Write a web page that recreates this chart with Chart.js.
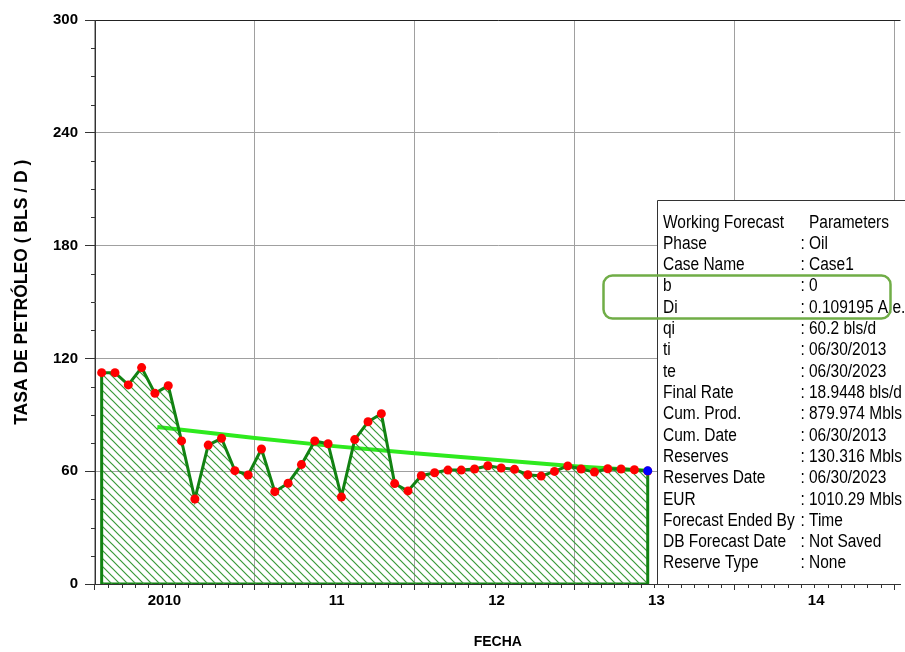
<!DOCTYPE html>
<html>
<head>
<meta charset="utf-8">
<script src="https://cdn.jsdelivr.net/npm/chart.js@4.4.1/dist/chart.umd.min.js"></script>
<style>
  html, body { margin: 0; padding: 0; background: #fff; }
  canvas { display: block; }
</style>
</head>
<body>
<canvas id="chart" width="905" height="652"></canvas>
<script>
// Monthly oil rate history (bls/d), Jan 2010 – Jun 2013
const months = [
  '2010-01','2010-02','2010-03','2010-04','2010-05','2010-06','2010-07','2010-08','2010-09','2010-10','2010-11','2010-12',
  '2011-01','2011-02','2011-03','2011-04','2011-05','2011-06','2011-07','2011-08','2011-09','2011-10','2011-11','2011-12',
  '2012-01','2012-02','2012-03','2012-04','2012-05','2012-06','2012-07','2012-08','2012-09','2012-10','2012-11','2012-12',
  '2013-01','2013-02','2013-03','2013-04','2013-05','2013-06'
];
const oilRate = [
  112.4, 112.4, 105.9, 115.1, 101.4, 105.5, 76.1, 45.2, 73.9, 77.5, 60.3, 58.0,
  71.8, 49.1, 53.6, 63.5, 76.1, 74.6, 46.3, 76.8, 86.3, 90.6, 53.4, 49.5,
  57.6, 59.2, 60.6, 60.6, 61.2, 62.9, 61.7, 61.0, 58.1, 57.4, 59.9, 62.8,
  61.2, 59.6, 61.3, 61.2, 60.8, 60.1
];

// Working forecast (exponential decline) – decimal years and rates
const qi = 60.2;
const forecastYears = [2010.39, 2011.0, 2011.46, 2012.0, 2013.0, 2013.458];
const forecastRate  = [83.5, 77.6, 73.6, 69.6, 62.6, qi];

// Axis ticks
const yearTicks  = [2010.5, 2011.5, 2012.5, 2013.5, 2014.5];
const yearLabels = ['2010      ', '11', '12', '13', '14'];
const rateTicks  = [0, 60, 120, 180, 240, 300];

// Forecast parameter table
const paramNames = [
  'Working Forecast', 'Phase', 'Case Name', 'b', 'Di', 'qi', 'ti', 'te', 'Final Rate',
  'Cum. Prod.', 'Cum. Date', 'Reserves', 'Reserves Date', 'EUR',
  'Forecast Ended By', 'DB Forecast Date', 'Reserve Type'
];
const paramValues = [
  'Parameters', 'Oil', 'Case1', '0', '0.109195 A.e.', qi + ' bls/d', '06/30/2013', '06/30/2023',
  '18.9448 bls/d', '879.974 Mbls', '06/30/2013', '130.316 Mbls', '06/30/2023', '1010.29 Mbls',
  'Time', 'Not Saved', 'None'
];

// month 'YYYY-MM' -> decimal year at mid-month
function toYear(m) {
  const [y, mo] = m.split('-').map(Number);
  return y + (mo - 0.5) / 12;
}

const history = months.map((m, i) => ({ x: toYear(m), y: oilRate[i] }));
const t0 = history[0].x;
const tN = history[history.length - 1].x;
const areaOutline = [{ x: t0, y: 0 }, ...history, { x: tN, y: 0 }];
const forecast = forecastYears.map((x, i) => ({ x, y: forecastRate[i] }));

// diagonal hatch used to fill the cumulative area
function hatchPattern() {
  const s = 8;
  const c = document.createElement('canvas');
  c.width = s; c.height = s;
  const g = c.getContext('2d');
  g.strokeStyle = '#3a9a3a';
  g.lineWidth = 1.2;
  g.beginPath();
  g.moveTo(-1, -1); g.lineTo(s + 1, s + 1);
  g.moveTo(-1, s - 1); g.lineTo(1, s + 1);
  g.moveTo(s - 1, -1); g.lineTo(s + 1, 1);
  g.stroke();
  return g.createPattern(c, 'repeat');
}

const FONT = '"Liberation Sans", Arial, Helvetica, sans-serif';
const DARK_GREEN = '#128212';

// minor tick marks plus the parameter panel
const overlay = {
  id: 'overlay',
  afterDraw(chart) {
    const { ctx, scales: { x, y }, chartArea } = chart;
    ctx.save();
    ctx.strokeStyle = '#333';
    ctx.lineWidth = 1;
    ctx.beginPath();
    for (let k = 1; k < 12 * 6; k++) {
      if (k % 12 === 0) continue;
      const v = 2010 + k / 12;
      if (v > x.max) break;
      const px = Math.round(x.getPixelForValue(v)) + 0.5;
      ctx.moveTo(px, chartArea.bottom);
      ctx.lineTo(px, chartArea.bottom + 4);
    }
    for (let v = 15; v < 300; v += 15) {
      if (v % 60 === 0) continue;
      const py = Math.round(y.getPixelForValue(v)) + 0.5;
      ctx.moveTo(chartArea.left - 4, py);
      ctx.lineTo(chartArea.left, py);
    }
    ctx.stroke();

    // parameter panel
    const bx = 657.5, by = 200.5, bottom = chartArea.bottom;
    ctx.fillStyle = '#fff';
    ctx.fillRect(bx, by, chart.width - bx + 2, bottom - by);
    ctx.strokeStyle = '#333';
    ctx.beginPath();
    ctx.moveTo(bx, bottom + 1);
    ctx.lineTo(bx, by);
    ctx.lineTo(chart.width + 2, by);
    ctx.stroke();

    ctx.fillStyle = '#000';
    ctx.font = '18px ' + FONT;
    ctx.textBaseline = 'alphabetic';
    ctx.textAlign = 'left';
    const put = (t, px, py) => {
      ctx.save();
      ctx.translate(px, py);
      ctx.scale(0.86, 1);
      ctx.fillText(t, 0, 0);
      ctx.restore();
    };
    paramNames.forEach((name, i) => {
      const base = 227.5 + 21.31 * i;
      put(name, 663, base);
      if (i > 0) put(':', 800.5, base);
      put(paramValues[i], 809, base);
    });

    // highlight around b / Di
    const rx = 603.5, ry = 275.5, rw = 287, rh = 43, r = 9;
    ctx.strokeStyle = '#70ad47';
    ctx.lineWidth = 2.5;
    ctx.beginPath();
    ctx.moveTo(rx + r, ry);
    ctx.lineTo(rx + rw - r, ry);
    ctx.arcTo(rx + rw, ry, rx + rw, ry + r, r);
    ctx.lineTo(rx + rw, ry + rh - r);
    ctx.arcTo(rx + rw, ry + rh, rx + rw - r, ry + rh, r);
    ctx.lineTo(rx + r, ry + rh);
    ctx.arcTo(rx, ry + rh, rx, ry + rh - r, r);
    ctx.lineTo(rx, ry + r);
    ctx.arcTo(rx, ry, rx + r, ry, r);
    ctx.closePath();
    ctx.stroke();
    ctx.restore();
  }
};

new Chart(document.getElementById('chart'), {
  type: 'line',
  data: {
    datasets: [
      { // forecast start point
        data: [{ x: tN, y: qi }],
        showLine: false,
        pointRadius: 4.5,
        pointBackgroundColor: '#0000ff',
        pointBorderWidth: 0,
        order: 0
      },
      { // monthly rate points
        data: history,
        showLine: false,
        pointRadius: 4.5,
        pointBackgroundColor: '#ff0000',
        pointBorderWidth: 0,
        order: 1
      },
      { // production outline with hatched cumulative area
        data: areaOutline,
        borderColor: DARK_GREEN,
        borderWidth: 3,
        backgroundColor: hatchPattern(),
        fill: 'origin',
        pointRadius: 0,
        tension: 0,
        order: 2
      },
      { // base of the area
        data: [{ x: t0, y: 0 }, { x: tN, y: 0 }],
        borderColor: DARK_GREEN,
        borderWidth: 3,
        pointRadius: 0,
        fill: false,
        order: 3
      },
      { // working forecast line
        data: forecast,
        borderColor: '#2eea1e',
        borderWidth: 4,
        pointRadius: 0,
        fill: false,
        order: 4
      }
    ]
  },
  options: {
    responsive: false,
    animation: false,
    events: [],
    layout: { padding: { top: 20, right: 0, bottom: 0, left: 0 } },
    plugins: { legend: { display: false }, tooltip: { enabled: false } },
    scales: {
      x: {
        type: 'linear',
        min: 2010,
        max: 2015.04,
        afterFit: s => { s.height = 68; },
        afterBuildTicks: s => { s.ticks = yearTicks.map(v => ({ value: v })); },
        ticks: {
          callback: (v, i) => yearLabels[i],
          autoSkip: false,
          maxRotation: 0,
          labelOffset: 2,
          padding: 2,
          color: '#000',
          font: { family: FONT, size: 15, weight: 'bold' }
        },
        grid: {
          offset: true,
          color: '#a0a0a0',
          lineWidth: 1,
          tickLength: 6,
          tickColor: '#333'
        },
        border: { color: '#333', width: 1 },
        title: {
          display: true,
          text: 'FECHA',
          color: '#000',
          padding: { top: 0, bottom: 1 },
          font: { family: FONT, size: 14, weight: 'bold' }
        }
      },
      y: {
        type: 'linear',
        min: 0,
        max: 300,
        afterFit: s => { s.width = 95; },
        afterBuildTicks: s => { s.ticks = rateTicks.map(v => ({ value: v })); },
        ticks: {
          padding: 7,
          color: '#000',
          font: { family: FONT, size: 15, weight: 'bold' }
        },
        grid: {
          color: c => (c.tick && c.tick.value === 300 ? '#222' : '#a0a0a0'),
          lineWidth: 1,
          tickLength: 10,
          tickColor: '#333'
        },
        border: { color: '#333', width: 1 },
        title: {
          display: true,
          text: '    TASA DE PETRÓLEO ( BLS / D )',
          color: '#000',
          padding: { top: 12, bottom: 0 },
          font: { family: FONT, size: 17.5, weight: 'bold' }
        }
      }
    }
  },
  plugins: [overlay]
});
</script>
</body>
</html>
